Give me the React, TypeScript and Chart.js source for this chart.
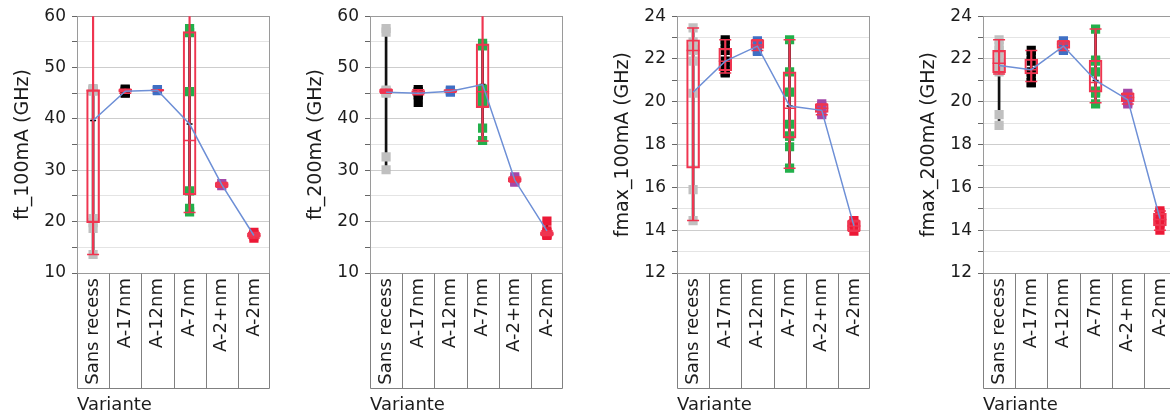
import React, { useEffect, useRef } from "react";
import { Chart, registerables } from "chart.js";

Chart.register(...registerables);

// ---------- data ----------
const categories = ["Sans recess", "A-17nm", "A-12nm", "A-7nm", "A-2+nm", "A-2nm"];
const categoryColors = ["#c0c0c0", "#000000", "#3f6fc4", "#22b04b", "#a547a8", "#ec1836"];
const xTitle = "Variante";

// ft_100mA (GHz)
const ft100Points = [
  [45.9, 45.7, 45.6, 45.5, 45.4, 20.6, 19.8, 18.7, 13.6],
  [45.8, 45.6, 45.3, 45.1, 45.0],
  [45.7, 45.6, 45.5],
  [57.6, 56.8, 45.3, 26.0, 22.6, 21.9],
  [27.4, 27.0],
  [17.9, 17.5, 17.2, 16.8],
];
const ft100Means = [39.7, 45.4, 45.6, 39.0, 27.2, 17.3];
const ft100Boxes = [
  [19.8, 45.5, 45.7],
  [45.2, 45.5, 45.8],
  [45.5, 45.6, 45.7],
  [25.2, 35.8, 57.0],
  [26.7, 27.2, 27.6],
  [17.0, 17.3, 17.7],
];
const ft100Whiskers = [[13.6, 64], [45.0, 45.8], [45.5, 45.7], [21.8, 64], [26.7, 27.6], [16.8, 17.9]];
const ft100Ranges = [[13.6, 45.9], [45.0, 45.8], [45.5, 45.7], [21.8, 57.6], [27.0, 27.4], [16.8, 17.9]];

// ft_200mA (GHz)
const ft200Points = [
  [57.6, 56.9, 45.6, 45.4, 45.2, 45.0, 32.6, 30.1],
  [45.7, 45.3, 45.0, 44.7, 43.2],
  [45.6, 45.4, 45.2],
  [54.7, 54.2, 45.8, 44.9, 44.3, 43.4, 38.2, 35.8],
  [28.7, 28.3, 27.9, 27.7],
  [20.1, 18.2, 17.8, 17.5, 17.3],
];
const ft200Means = [45.2, 45.0, 45.4, 46.7, 28.1, 18.2];
const ft200Boxes = [
  [45.1, 45.4, 45.8],
  [44.9, 45.3, 45.5],
  [45.2, 45.5, 45.7],
  [42.2, 45.3, 54.6],
  [27.8, 28.2, 28.6],
  [17.3, 17.6, 18.0],
];
const ft200Whiskers = [[45.0, 45.8], [44.7, 45.7], [45.2, 45.6], [35.7, 64], [27.7, 28.7], [17.3, 18.2]];
const ft200Ranges = [[30.0, 57.6], [43.1, 45.7], [45.2, 45.6], [35.7, 54.7], [27.7, 28.7], [17.3, 20.1]];

// fmax_100mA (GHz)
const fmax100Points = [
  [23.45, 22.8, 22.45, 22.4, 21.9, 20.4, 15.9, 14.45],
  [22.9, 22.75, 22.4, 21.9, 21.7, 21.4, 21.35],
  [22.85, 22.75, 22.4, 22.35],
  [22.9, 21.4, 20.45, 18.95, 18.4, 18.4, 17.9, 16.9],
  [19.9, 19.8, 19.5, 19.4],
  [14.45, 14.3, 13.95],
];
const fmax100Means = [20.45, 21.9, 22.6, 19.8, 19.6, 14.2];
const fmax100Boxes = [
  [16.9, 22.4, 22.9],
  [21.45, 21.9, 22.5],
  [22.5, 22.65, 22.9],
  [18.3, 19.7, 21.4],
  [19.5, 19.7, 19.9],
  [13.95, 14.2, 14.45],
];
const fmax100Whiskers = [[14.45, 23.45], [21.35, 22.9], [22.4, 22.9], [16.9, 22.9], [19.4, 19.9], [13.95, 14.45]];
const fmax100Ranges = [[14.45, 23.45], [21.35, 22.9], [22.35, 22.85], [16.9, 22.9], [19.4, 19.9], [13.95, 14.45]];

// fmax_200mA (GHz)
const fmax200Points = [
  [22.9, 22.6, 22.4, 22.0, 21.8, 21.5, 21.4, 19.4, 18.9],
  [22.4, 22.2, 21.9, 21.4, 21.3, 20.9, 20.9],
  [22.85, 22.7, 22.45, 22.4],
  [23.4, 21.95, 21.9, 21.4, 20.5, 20.4, 19.9],
  [20.4, 20.3, 20.0, 19.9],
  [14.9, 14.8, 14.6, 14.4, 14.3, 14.0],
];
const fmax200Means = [21.7, 21.5, 22.6, 21.0, 20.1, 14.55];
const fmax200Boxes = [
  [21.35, 21.8, 22.4],
  [21.3, 21.5, 22.0],
  [22.5, 22.7, 22.85],
  [20.45, 20.9, 21.95],
  [20.0, 20.2, 20.4],
  [14.2, 14.5, 14.8],
];
const fmax200Whiskers = [[21.3, 22.9], [20.95, 22.4], [22.4, 22.85], [19.95, 23.4], [19.9, 20.4], [14.0, 14.9]];
const fmax200Ranges = [[18.9, 22.9], [20.9, 22.4], [22.4, 22.85], [19.9, 23.4], [19.9, 20.4], [14.0, 14.9]];

// ---------- style ----------
const FONT = "'DejaVu Sans', Verdana, sans-serif";
const TEXT = "#1c1c1c";
const BOX_RED = "#ef3550";
const MEAN_BLUE = "#6d8fd6";
const FRAME = "#9a9a9a";
const AXIS_W = 77;
const PLOT_W = 193;
const RIGHT_PAD = 12;
const TABLE_H = 115;

const panels = [
  { left: 77, title: "ft_100mA (GHz)", min: 10, max: 60, minor: 5, major: 10,
    points: ft100Points, means: ft100Means, boxes: ft100Boxes, whiskers: ft100Whiskers, ranges: ft100Ranges },
  { left: 370, title: "ft_200mA (GHz)", min: 10, max: 60, minor: 5, major: 10,
    points: ft200Points, means: ft200Means, boxes: ft200Boxes, whiskers: ft200Whiskers, ranges: ft200Ranges },
  { left: 677, title: "fmax_100mA (GHz)", min: 12, max: 24, minor: 1, major: 2,
    points: fmax100Points, means: fmax100Means, boxes: fmax100Boxes, whiskers: fmax100Whiskers, ranges: fmax100Ranges },
  { left: 983, title: "fmax_200mA (GHz)", min: 12, max: 24, minor: 1, major: 2,
    points: fmax200Points, means: fmax200Means, boxes: fmax200Boxes, whiskers: fmax200Whiskers, ranges: fmax200Ranges },
];

const frameTablePlugin = {
  id: "frameTable",
  beforeDatasetsDraw(chart: any) {
    const { ctx, chartArea: a, scales } = chart;
    const x = scales.x;
    ctx.save();
    ctx.lineWidth = 1;
    ctx.strokeStyle = FRAME;
    const L = Math.round(a.left) + 0.5;
    const R = Math.round(a.right) - 0.5;
    const T = Math.round(a.top) + 0.5;
    const B = Math.round(a.bottom) + 0.5;
    ctx.strokeRect(L, T, R - L, B - T);
    // category table below the plot
    const tb = B + TABLE_H;
    ctx.strokeStyle = "#808080";
    ctx.beginPath();
    for (let i = 0; i <= categories.length; i++) {
      let px = Math.round(x.getPixelForValue(i - 0.5)) + 0.5;
      if (i === categories.length) px = R;
      ctx.moveTo(px, B);
      ctx.lineTo(px, tb);
    }
    ctx.moveTo(L, tb);
    ctx.lineTo(R, tb);
    ctx.stroke();
    ctx.restore();
  },
};

function buildDatasets(p: any) {
  const pts: any[] = [];
  const ptColors: string[] = [];
  p.points.forEach((vals: number[], i: number) => {
    vals.forEach((v) => {
      pts.push({ x: categories[i], y: v });
      ptColors.push(categoryColors[i]);
    });
  });
  const redCaps: any[] = [];
  p.whiskers.forEach(([lo, hi]: number[], i: number) => {
    if (lo >= p.min) redCaps.push({ x: categories[i], y: lo });
    if (hi <= p.max) redCaps.push({ x: categories[i], y: hi });
  });
  const blackCaps: any[] = [];
  p.ranges.forEach(([lo, hi]: number[], i: number) => {
    blackCaps.push({ x: categories[i], y: lo });
    blackCaps.push({ x: categories[i], y: hi });
  });
  return [
    { type: "line", data: p.means, borderColor: MEAN_BLUE, borderWidth: 1.5, pointRadius: 0, order: 0 },
    { type: "line", data: p.boxes.map((b: number[]) => b[1]), showLine: false, pointStyle: "line",
      pointRadius: 6.5, pointBorderColor: BOX_RED, pointBorderWidth: 1.5, order: 1 },
    { type: "line", data: redCaps, showLine: false, pointStyle: "line",
      pointRadius: 6, pointBorderColor: BOX_RED, pointBorderWidth: 1.5, order: 1 },
    { type: "bar", data: p.boxes.map((b: number[]) => [b[0], b[2]]), backgroundColor: "rgba(0,0,0,0)",
      borderColor: BOX_RED, borderWidth: 1.5, borderSkipped: false, barThickness: 13, grouped: false, order: 2 },
    { type: "bar", data: p.whiskers, backgroundColor: BOX_RED, barThickness: 1.5, grouped: false, clip: 0, order: 3 },
    { type: "line", data: pts, showLine: false, pointStyle: "rect", pointRadius: 6.5,
      pointBackgroundColor: ptColors, pointBorderWidth: 0, order: 4 },
    { type: "line", data: p.means, showLine: false, pointStyle: "line", pointRadius: 3,
      pointBorderColor: "#000", pointBorderWidth: 1.5, order: 5 },
    { type: "line", data: blackCaps, showLine: false, pointStyle: "line", pointRadius: 4,
      pointBorderColor: "#000", pointBorderWidth: 1.5, order: 5 },
    { type: "bar", data: p.ranges, backgroundColor: "#111", barThickness: 2, grouped: false, clip: 0, order: 6 },
  ];
}

function Panel({ p }: { p: any }) {
  const ref = useRef<HTMLCanvasElement | null>(null);
  useEffect(() => {
    if (!ref.current) return;
    const chart = new Chart(ref.current, {
      type: "bar",
      data: { labels: categories, datasets: buildDatasets(p) as any },
      plugins: [frameTablePlugin],
      options: {
        responsive: false,
        animation: false,
        devicePixelRatio: 1,
        events: [],
        layout: { padding: { top: 16, right: RIGHT_PAD, left: 0, bottom: 0 } },
        plugins: { legend: { display: false }, tooltip: { enabled: false } },
        scales: {
          x: {
            type: "category",
            offset: true,
            grid: { display: false, drawTicks: false },
            border: { display: false },
            ticks: {
              minRotation: 90, maxRotation: 90, autoSkip: false, padding: 5,
              font: { family: FONT, size: 18 }, color: TEXT,
            },
            title: {
              display: true, text: xTitle, align: "start",
              font: { family: FONT, size: 18 }, color: TEXT, padding: { top: 0, bottom: 0 },
            },
            afterFit: (s: any) => { s.height = 416 - 273; },
          },
          y: {
            type: "linear",
            min: p.min,
            max: p.max,
            ticks: {
              stepSize: p.minor, autoSkip: false, padding: 6,
              font: { family: FONT, size: 17 }, color: TEXT,
              callback: (v: any) => (Math.abs(v / p.major - Math.round(v / p.major)) < 1e-6 ? String(v) : ""),
            },
            grid: {
              color: (c: any) => {
                const v = c.tick ? c.tick.value : 0;
                return Math.abs(v / p.major - Math.round(v / p.major)) < 1e-6 ? "#cdcdcd" : "#e4e4e4";
              },
              tickColor: "#666",
              tickLength: 5,
              drawTicks: true,
            },
            border: { display: false },
            title: {
              display: true, text: p.title,
              font: { family: FONT, size: 19 }, color: TEXT, padding: { top: 12, bottom: 0 },
            },
            afterFit: (s: any) => { s.width = AXIS_W; },
          },
        },
      } as any,
    });
    return () => chart.destroy();
  }, [p]);
  return (
    <canvas
      ref={ref}
      width={AXIS_W + PLOT_W + RIGHT_PAD}
      height={416}
      style={{ position: "absolute", left: p.left - AXIS_W, top: 0 }}
    />
  );
}

export default function App() {
  return (
    <div style={{ position: "fixed", left: 0, top: 0, width: 1170, height: 416, overflow: "hidden", background: "#fff" }}>
      {panels.map((p) => (
        <Panel key={p.title} p={p} />
      ))}
    </div>
  );
}
